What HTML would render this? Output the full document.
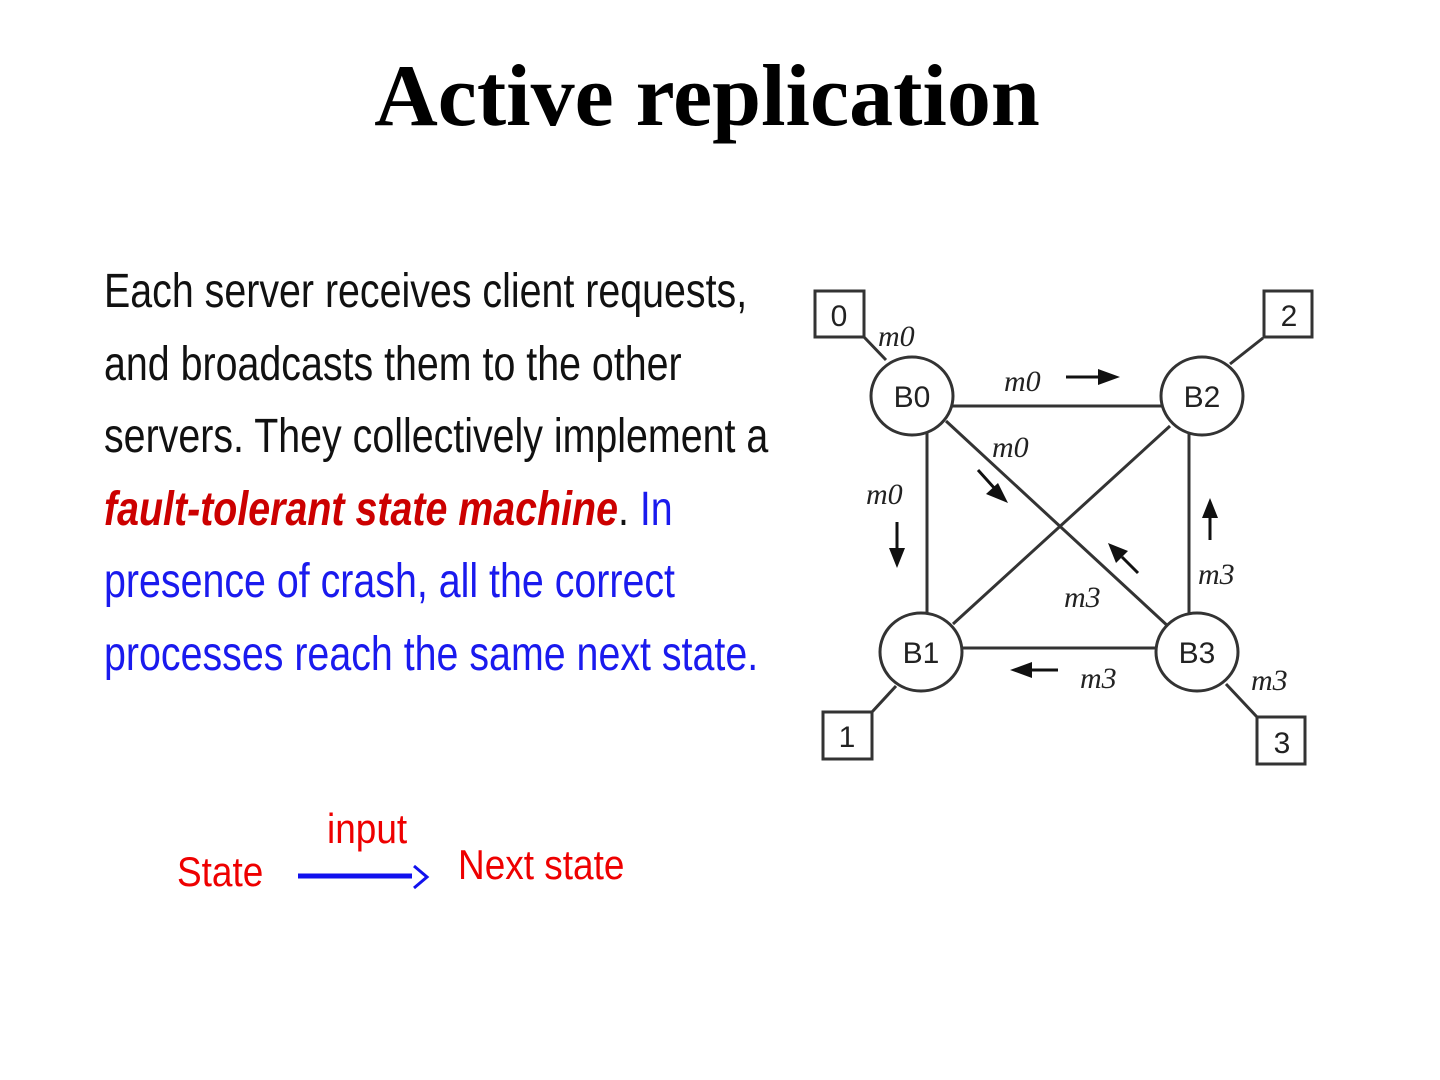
<!DOCTYPE html>
<html><head><meta charset="utf-8"><style>
body{margin:0;width:1440px;height:1080px;background:#fff;position:relative;overflow:hidden}
h1{position:absolute;top:46px;left:0;width:1414px;text-align:center;margin:0;font:bold 88px "Liberation Serif",serif;color:#000}
.t{position:absolute;left:104px;top:256px;font:48px "Liberation Sans Narrow","Liberation Sans",sans-serif;line-height:72.5px;color:#111;width:900px;transform:scaleX(0.82);transform-origin:0 0;white-space:nowrap}
.r{color:#c00;font-weight:bold;font-style:italic}
.b{color:#1a1aee}
.l{position:absolute;font:42px "Liberation Sans Narrow","Liberation Sans",sans-serif;color:#e00;transform:scaleX(0.88);transform-origin:0 0;white-space:nowrap}
</style></head><body>
<h1>Active replication</h1>
<div class="t">Each server receives client requests,<br>and broadcasts them to the other<br>servers. They collectively implement a<br><span class="r">fault-tolerant state machine</span>. <span class="b">In<br>presence of crash, all the correct<br>processes reach the same next state.</span></div>
<svg width="1440" height="1080" style="position:absolute;left:0;top:0" font-family="Liberation Sans, sans-serif">
<g stroke="#333" stroke-width="3" fill="none">
<line x1="952" y1="406" x2="1162" y2="406"/>
<line x1="960" y1="648" x2="1158" y2="648"/>
<line x1="927" y1="433" x2="927" y2="614"/>
<line x1="1189" y1="433" x2="1189" y2="616"/>
<line x1="946" y1="421" x2="1170" y2="628"/>
<line x1="1170" y1="426" x2="953" y2="624"/>
<line x1="864" y1="337" x2="886" y2="360"/>
<line x1="1263" y1="338" x2="1230" y2="364"/>
<line x1="896" y1="686" x2="872" y2="712"/>
<line x1="1226" y1="684" x2="1257" y2="717"/>
<rect x="815" y="291" width="49" height="46" fill="#fff"/>
<rect x="1264" y="291" width="48" height="46" fill="#fff"/>
<rect x="823" y="712" width="49" height="47" fill="#fff"/>
<rect x="1257" y="717" width="48" height="47" fill="#fff"/>
<ellipse cx="912" cy="396" rx="41" ry="39" fill="#fff"/>
<ellipse cx="1202" cy="396" rx="41" ry="39" fill="#fff"/>
<ellipse cx="921" cy="652" rx="41" ry="39" fill="#fff"/>
<ellipse cx="1197" cy="652" rx="41" ry="39" fill="#fff"/>
</g>
<g fill="#222" font-size="30" text-anchor="middle">
<text x="912" y="407">B0</text><text x="1202" y="407">B2</text>
<text x="921" y="663">B1</text><text x="1197" y="663">B3</text>
<text x="839" y="326">0</text><text x="1289" y="326">2</text>
<text x="847" y="747">1</text><text x="1282" y="753">3</text>
</g>
<g fill="#222" font-size="30" font-style="italic" font-family="Liberation Serif, serif">
<text x="878" y="346">m0</text><text x="1004" y="391">m0</text>
<text x="992" y="457">m0</text><text x="866" y="504">m0</text>
<text x="1064" y="607">m3</text><text x="1198" y="584">m3</text>
<text x="1080" y="688">m3</text><text x="1251" y="690">m3</text>
</g>
<g stroke="#111" stroke-width="3" fill="#111">
<line x1="1066" y1="377" x2="1100" y2="377"/><polygon points="1120,377 1098,369 1098,385" stroke="none"/>
<line x1="897" y1="522" x2="897" y2="550"/><polygon points="897,568 889,548 905,548" stroke="none"/>
<line x1="978" y1="470" x2="996" y2="490"/><polygon points="1008,503 986,494 998,483" stroke="none"/>
<line x1="1210" y1="540" x2="1210" y2="516"/><polygon points="1210,498 1202,518 1218,518" stroke="none"/>
<line x1="1138" y1="573" x2="1122" y2="557"/><polygon points="1108,543 1128,551 1116,563" stroke="none"/>
<line x1="1058" y1="670" x2="1032" y2="670"/><polygon points="1010,670 1032,662 1032,678" stroke="none"/>
</g>
<line x1="298" y1="876" x2="412" y2="876" stroke="#11e" stroke-width="5"/>
<polyline points="414,866 427,877 414,888" stroke="#11e" stroke-width="3" fill="none"/>
</svg>
<div class="l" style="left:327px;top:805px">input</div>
<div class="l" style="left:177px;top:848px">State</div>
<div class="l" style="left:458px;top:841px">Next state</div>
</body></html>
